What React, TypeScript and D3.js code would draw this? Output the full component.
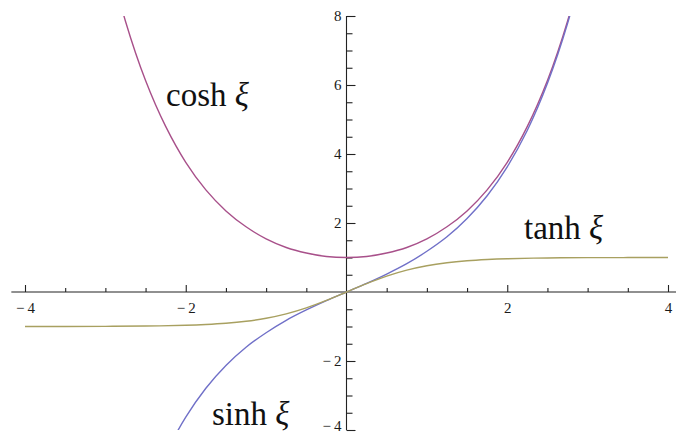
import React, { useEffect, useRef } from 'react';
import * as d3 from 'd3';

// values
const coshX = [-3, -2.75, -2.5, -2.25, -2, -1.75, -1.5, -1.25, -1, -0.75, -0.5, -0.25, 0, 0.25, 0.5, 0.75, 1, 1.25, 1.5, 1.75, 2, 2.25, 2.5, 2.75, 3];
const coshY = [10.07, 7.85, 6.13, 4.8, 3.76, 2.96, 2.35, 1.89, 1.54, 1.29, 1.13, 1.03, 1.0, 1.03, 1.13, 1.29, 1.54, 1.89, 2.35, 2.96, 3.76, 4.8, 6.13, 7.85, 10.07];

const sinhX = [-2.5, -2.25, -2, -1.75, -1.5, -1.25, -1, -0.75, -0.5, -0.25, 0, 0.25, 0.5, 0.75, 1, 1.25, 1.5, 1.75, 2, 2.25, 2.5, 2.75, 3];
const sinhY = [-6.05, -4.69, -3.63, -2.79, -2.13, -1.6, -1.18, -0.82, -0.52, -0.25, 0, 0.25, 0.52, 0.82, 1.18, 1.6, 2.13, 2.79, 3.63, 4.69, 6.05, 7.78, 10.02];

const tanhX = [-4, -3.5, -3, -2.5, -2, -1.75, -1.5, -1.25, -1, -0.75, -0.5, -0.25, 0, 0.25, 0.5, 0.75, 1, 1.25, 1.5, 1.75, 2, 2.5, 3, 3.5, 4];
const tanhY = [-0.999, -0.998, -0.995, -0.987, -0.964, -0.941, -0.905, -0.848, -0.762, -0.635, -0.462, -0.245, 0, 0.245, 0.462, 0.635, 0.762, 0.848, 0.905, 0.941, 0.964, 0.987, 0.995, 0.998, 0.999];

const xMajor = [-4, -2, 2, 4];
const xMinor = [-3.5, -3, -2.5, -1.5, -1, -0.5, 0.5, 1, 1.5, 2.5, 3, 3.5];
const yMajor = [-4, -2, 2, 4, 6, 8];
const yMinor = [-3.5, -3, -2.5, -1.5, -1, -0.5, 0.5, 1, 1.5, 2.5, 3, 3.5, 4.5, 5, 5.5, 6.5, 7, 7.5];

const W = 676;
const H = 436;
const TICK_FONT = '"Liberation Serif", "Times New Roman", serif';

const App = () => {
    const ref = useRef<SVGSVGElement>(null);

    useEffect(() => {
        const svg = d3.select(ref.current);
        svg.selectAll('*').remove();

        const x = d3.scaleLinear().domain([-4, 4]).range([25, 668]);
        const y = d3.scaleLinear().domain([-4, 8]).range([430, 16]);
        // wide minus like the original's tick labels
        const fmt = (d: number) => (d < 0 ? '\u2212\u2009' + Math.abs(d) : String(d));

        svg.append('defs').append('clipPath').attr('id', 'plotclip')
            .append('rect')
            .attr('x', x(-4) - 2).attr('y', y(8))
            .attr('width', x(4) - x(-4) + 4).attr('height', y(-4) - y(8));

        // x axis (ticks point up, labels below)
        const gx = svg.append('g').attr('transform', `translate(0,${y(0)})`);
        gx.append('line')
            .attr('x1', x(-4.17)).attr('x2', W)
            .attr('stroke', '#222').attr('stroke-width', 1.1);
        gx.call(d3.axisBottom(x).tickValues(xMinor).tickFormat(() => '').tickSizeInner(-4).tickSizeOuter(0))
            .call(g => g.select('.domain').remove());
        const gxm = svg.append('g').attr('transform', `translate(0,${y(0)})`);
        gxm.call(d3.axisBottom(x).tickValues(xMajor).tickFormat(fmt as any).tickSizeInner(-7).tickSizeOuter(0).tickPadding(10))
            .call(g => g.select('.domain').remove())
            .attr('font-size', 15)
            .attr('font-family', TICK_FONT);

        // y axis (ticks point right, labels left)
        const gy = svg.append('g').attr('transform', `translate(${x(0)},0)`);
        gy.append('line')
            .attr('y1', y(8)).attr('y2', y(-4))
            .attr('stroke', '#222').attr('stroke-width', 1.1);
        gy.call(d3.axisLeft(y).tickValues(yMinor).tickFormat(() => '').tickSizeInner(-6).tickSizeOuter(0))
            .call(g => g.select('.domain').remove());
        const gym = svg.append('g').attr('transform', `translate(${x(0)},0)`);
        gym.call(d3.axisLeft(y).tickValues(yMajor).tickFormat(fmt as any).tickSizeInner(-9).tickSizeOuter(0).tickPadding(5))
            .call(g => g.select('.domain').remove())
            .attr('font-size', 15)
            .attr('font-family', TICK_FONT);
        // keep the bottom label inside the frame
        gym.selectAll<SVGTextElement, number>('.tick text')
            .filter(d => d === -4)
            .attr('dy', '0.05em');

        svg.selectAll('.tick line').attr('stroke', '#222').attr('stroke-width', 1.1);
        svg.selectAll('.tick text').attr('fill', '#1a1a1a');

        const line = d3.line<[number, number]>()
            .x(d => x(d[0])).y(d => y(d[1]))
            .curve(d3.curveCatmullRom);

        const series = [
            { xs: coshX, ys: coshY, color: '#a8508a' },
            { xs: sinhX, ys: sinhY, color: '#7070c8' },
            { xs: tanhX, ys: tanhY, color: '#a8a060' },
        ];
        const plot = svg.append('g').attr('clip-path', 'url(#plotclip)');
        series.forEach(s => {
            plot.append('path')
                .datum(s.xs.map((v, i) => [v, s.ys[i]] as [number, number]))
                .attr('d', line)
                .attr('fill', 'none')
                .attr('stroke', s.color)
                .attr('stroke-width', 1.4);
        });

        const labels = [
            { name: 'cosh', px: 166, py: 106 },
            { name: 'tanh', px: 524, py: 239 },
            { name: 'sinh', px: 212, py: 425 },
        ];
        labels.forEach(l => {
            const t = svg.append('text')
                .attr('x', l.px).attr('y', l.py)
                .attr('fill', '#111')
                .style('font-family', '"Liberation Serif", serif')
                .style('font-size', '33px');
            t.append('tspan').text(l.name + ' ');
            t.append('tspan').style('font-style', 'italic').text('ξ');
        });
    }, []);

    return <svg ref={ref} width={W} height={H} style={{ position: 'absolute', left: 0, top: 0, background: '#fff' }} />;
};

export default App;
